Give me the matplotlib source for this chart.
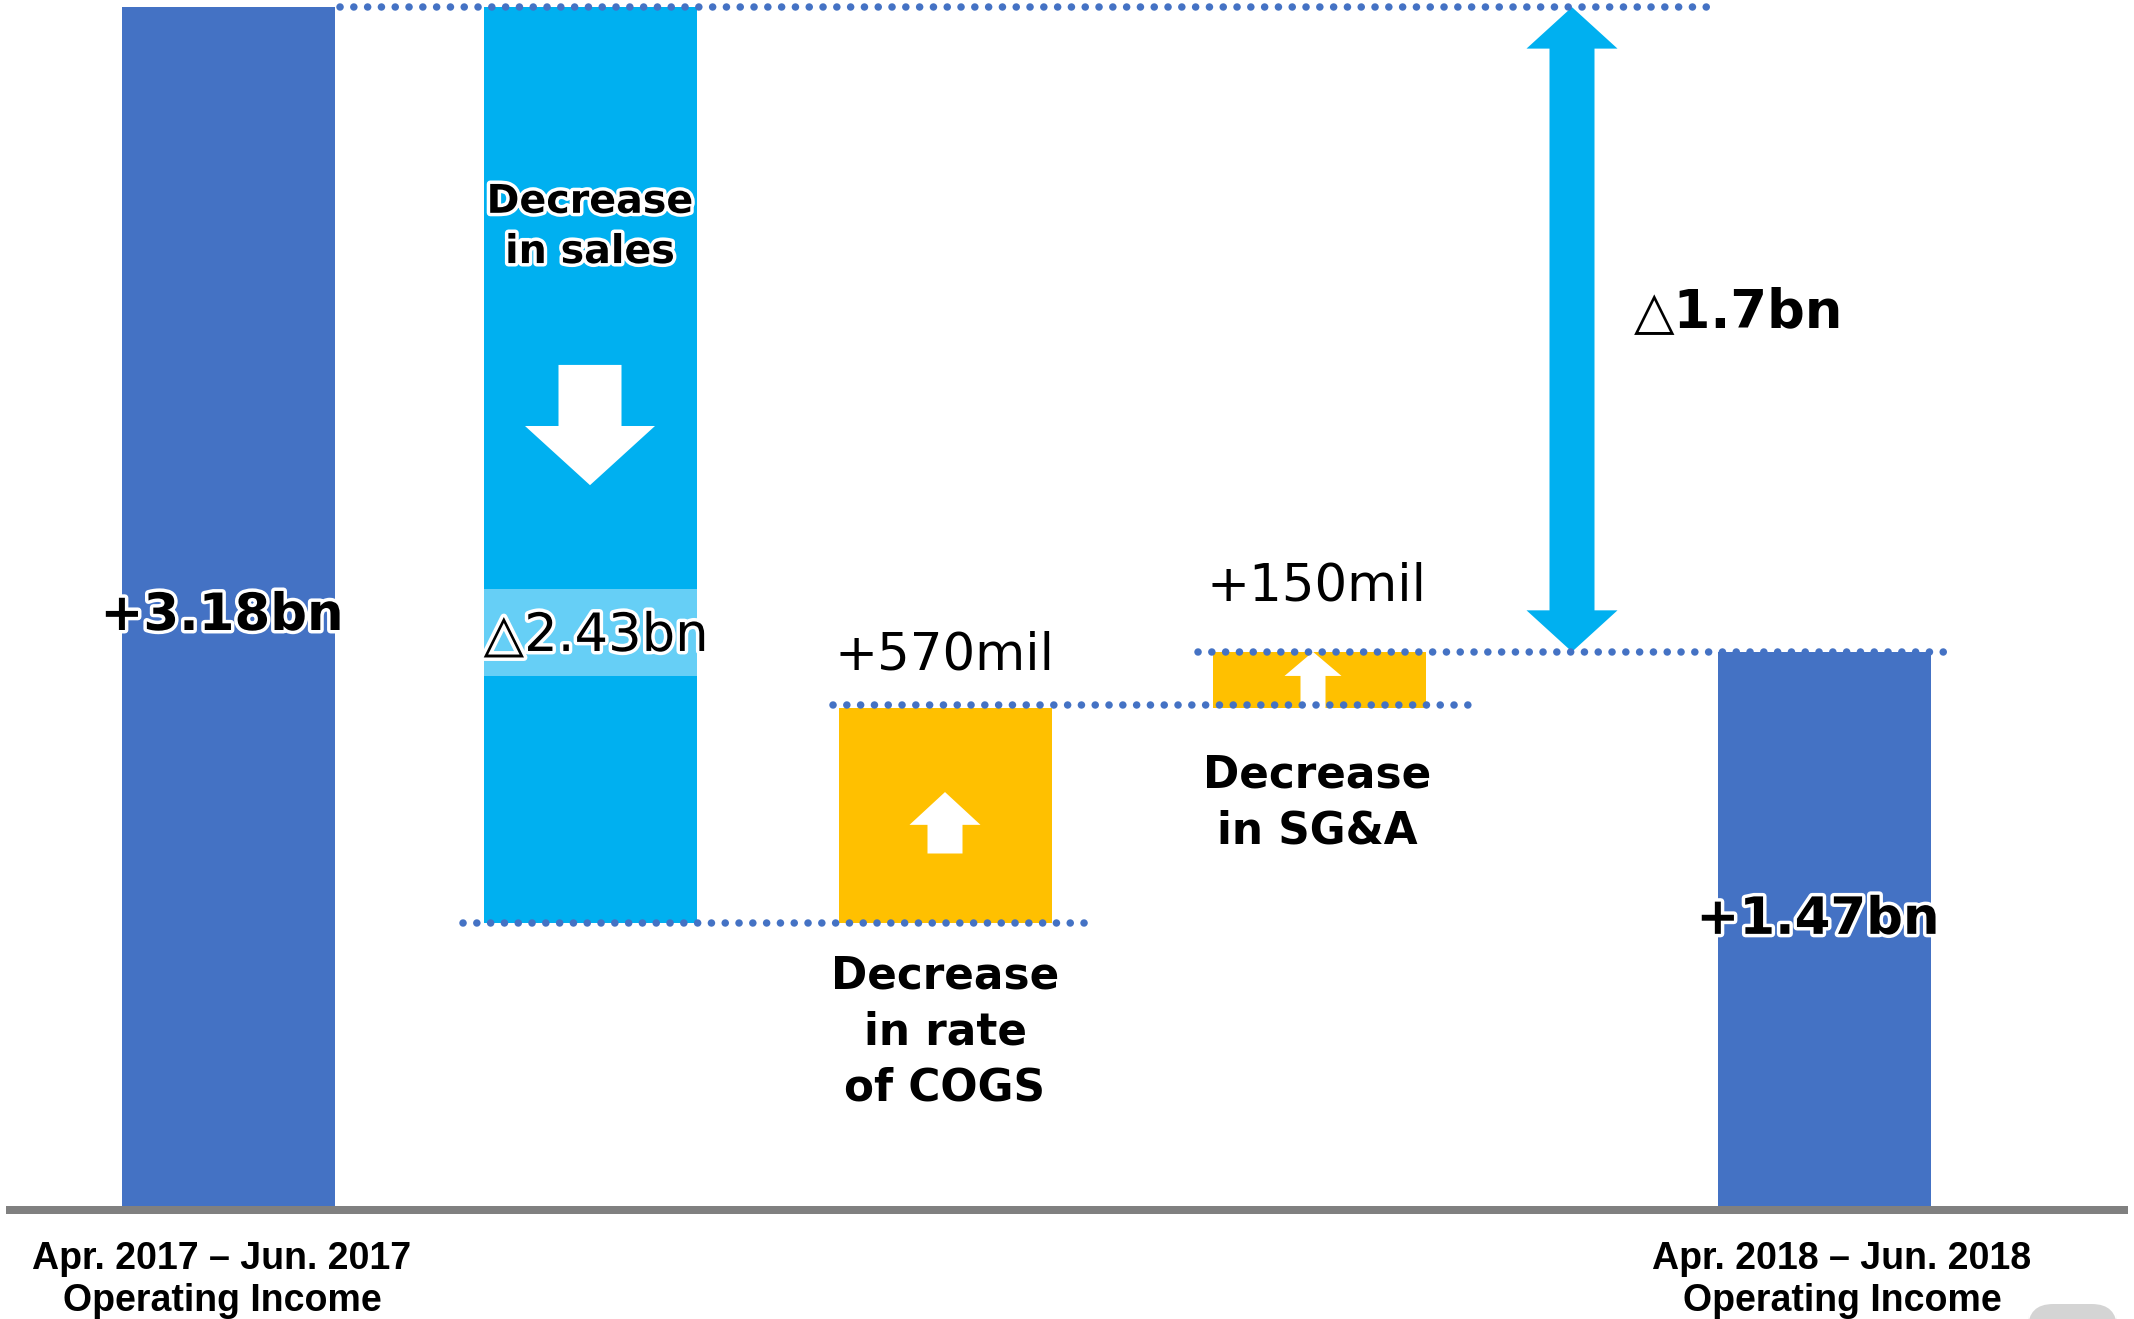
import matplotlib.pyplot as plt
import matplotlib.patheffects as pe
from matplotlib.patches import Polygon, Rectangle, FancyBboxPatch

# operating income bridge, billions of yen
start_value = 3.18
changes = [-2.43, 0.57, 0.15]
end_value = 1.47

value_labels = ["+3.18bn", "\u25b32.43bn", "+570mil", "+150mil", "+1.47bn"]
step_labels = ["Decrease\nin sales", "Decrease\nin rate\nof COGS", "Decrease\nin SG&A"]
period_labels = ["Apr. 2017 \u2013 Jun. 2017\nOperating Income",
                 "Apr. 2018 \u2013 Jun. 2018\nOperating Income"]
gap_label = "\u25b31.7bn"

# layout on a 2134 x 1319 pixel canvas (x in pixels, y in bn)
bar_x = [228, 590, 945, 1319, 1824]
bar_w = 213
colors = ["#4472C4", "#00B0F0", "#FFC000", "#FFC000", "#4472C4"]
PX = 377.0  # pixels per bn
DOT = "#4472C4"


def block_arrow(ax, cx, y_tail, y_tip, shaft_w, head_w, head_len, color):
    s = 1 if y_tip > y_tail else -1
    yb = y_tip - s * head_len
    pts = [(cx - shaft_w / 2, y_tail), (cx - shaft_w / 2, yb), (cx - head_w / 2, yb),
           (cx, y_tip), (cx + head_w / 2, yb), (cx + shaft_w / 2, yb),
           (cx + shaft_w / 2, y_tail)]
    ax.add_patch(Polygon(pts, closed=True, color=color, lw=0, zorder=4))


def double_arrow(ax, cx, y_low, y_high, shaft_w, head_w, head_len, color):
    a, b = y_low + head_len, y_high - head_len
    sw, hw = shaft_w / 2, head_w / 2
    pts = [(cx, y_low), (cx + hw, a), (cx + sw, a), (cx + sw, b), (cx + hw, b),
           (cx, y_high), (cx - hw, b), (cx - sw, b), (cx - sw, a), (cx - hw, a)]
    ax.add_patch(Polygon(pts, closed=True, color=color, lw=0, zorder=4))


def dotted(ax, x0, x1, y):
    ax.plot([x0, x1], [y, y], color=DOT, lw=5.4, linestyle=(0, (0.01, 1.83)),
            dash_capstyle="round", zorder=5)


# bar extents from the data
bottoms, heights = [0.0], [start_value]
level = start_value
for c in changes:
    new = level + c
    bottoms.append(min(level, new))
    heights.append(abs(c))
    level = new
bottoms.append(0.0)
heights.append(end_value)
tops = [b + h for b, h in zip(bottoms, heights)]

fig = plt.figure(figsize=(21.34, 13.19), dpi=100)
ax = fig.add_axes([0, 0, 1, 1])
ax.set_xlim(0, 2134)
ax.set_ylim(-113 / PX, 1206 / PX)
ax.axis("off")

ax.bar(bar_x, heights, bottom=bottoms, width=bar_w, color=colors, zorder=2)

# lighter band behind the sales label
ax.add_patch(Rectangle((bar_x[1] - bar_w / 2, 1.406), bar_w, 0.23,
                       color="#66CFF6", lw=0, zorder=3))

# baseline
ax.add_patch(Rectangle((6, -8 / PX), 2122, 8 / PX, color="#808080", lw=0, zorder=3))

# dotted connector lines
dotted(ax, 340, 1718, tops[0])
dotted(ax, 463, 1085, bottoms[1])
dotted(ax, 833, 1470, tops[2] + 0.01)
dotted(ax, 1198, 1944, tops[3])

# arrows inside the bars
block_arrow(ax, bar_x[1], 2.231, 1.912, 63, 130, 0.157, "white")
block_arrow(ax, bar_x[2], bottoms[2] + 0.185, bottoms[2] + 0.348, 35, 71, 0.087, "white")
block_arrow(ax, bar_x[3] - 6, bottoms[3], tops[3], 25, 57, 0.064, "white")

# double arrow showing the overall gap
double_arrow(ax, 1572, end_value, tops[0], 45, 91, 0.11, "#00B0F0")

glow = [pe.withStroke(linewidth=5, foreground="white")]
font = "DejaVu Sans"

ax.text(222, 1.565, value_labels[0], ha="center", va="center", fontsize=37,
        weight="bold", family=font, path_effects=glow, zorder=6)
ax.text(596, 1.512, value_labels[1], ha="center", va="center", fontsize=38,
        family=font, path_effects=glow, zorder=6)
ax.text(bar_x[2], 1.459, value_labels[2], ha="center", va="center", fontsize=37,
        family=font, zorder=6)
ax.text(bar_x[3] - 2, 1.642, value_labels[3], ha="center", va="center", fontsize=37,
        family=font, zorder=6)
ax.text(1818, 0.759, value_labels[4], ha="center", va="center", fontsize=37,
        weight="bold", family=font, path_effects=glow, zorder=6)

ax.text(bar_x[1], 2.597, step_labels[0], ha="center", va="center", fontsize=28.5,
        weight="bold", family=font, linespacing=1.33, path_effects=glow, zorder=6)
ax.text(bar_x[2], 0.462, step_labels[1], ha="center", va="center", fontsize=31.5,
        weight="bold", family=font, linespacing=1.38, zorder=6)
ax.text(bar_x[3] - 2, 1.07, step_labels[2], ha="center", va="center", fontsize=31.5,
        weight="bold", family=font, linespacing=1.38, zorder=6)

ax.text(1739, 2.371, gap_label, ha="center", va="center", fontsize=38,
        weight="bold", family=font, zorder=6)

ax.text(222, -0.196, period_labels[0], ha="center", va="center", fontsize=27,
        weight="bold", family="Liberation Sans", linespacing=1.19)
ax.text(1842, -0.196, period_labels[1], ha="center", va="center", fontsize=27,
        weight="bold", family="Liberation Sans", linespacing=1.19)

# small grey tab in the bottom-right corner
ax.add_patch(FancyBboxPatch((2028, -0.355), 89, 0.095,
                            boxstyle="round,pad=0,rounding_size=25",
                            mutation_aspect=1 / PX, color="#D4D4D4", lw=0))

fig.savefig("out.png", dpi=100)
